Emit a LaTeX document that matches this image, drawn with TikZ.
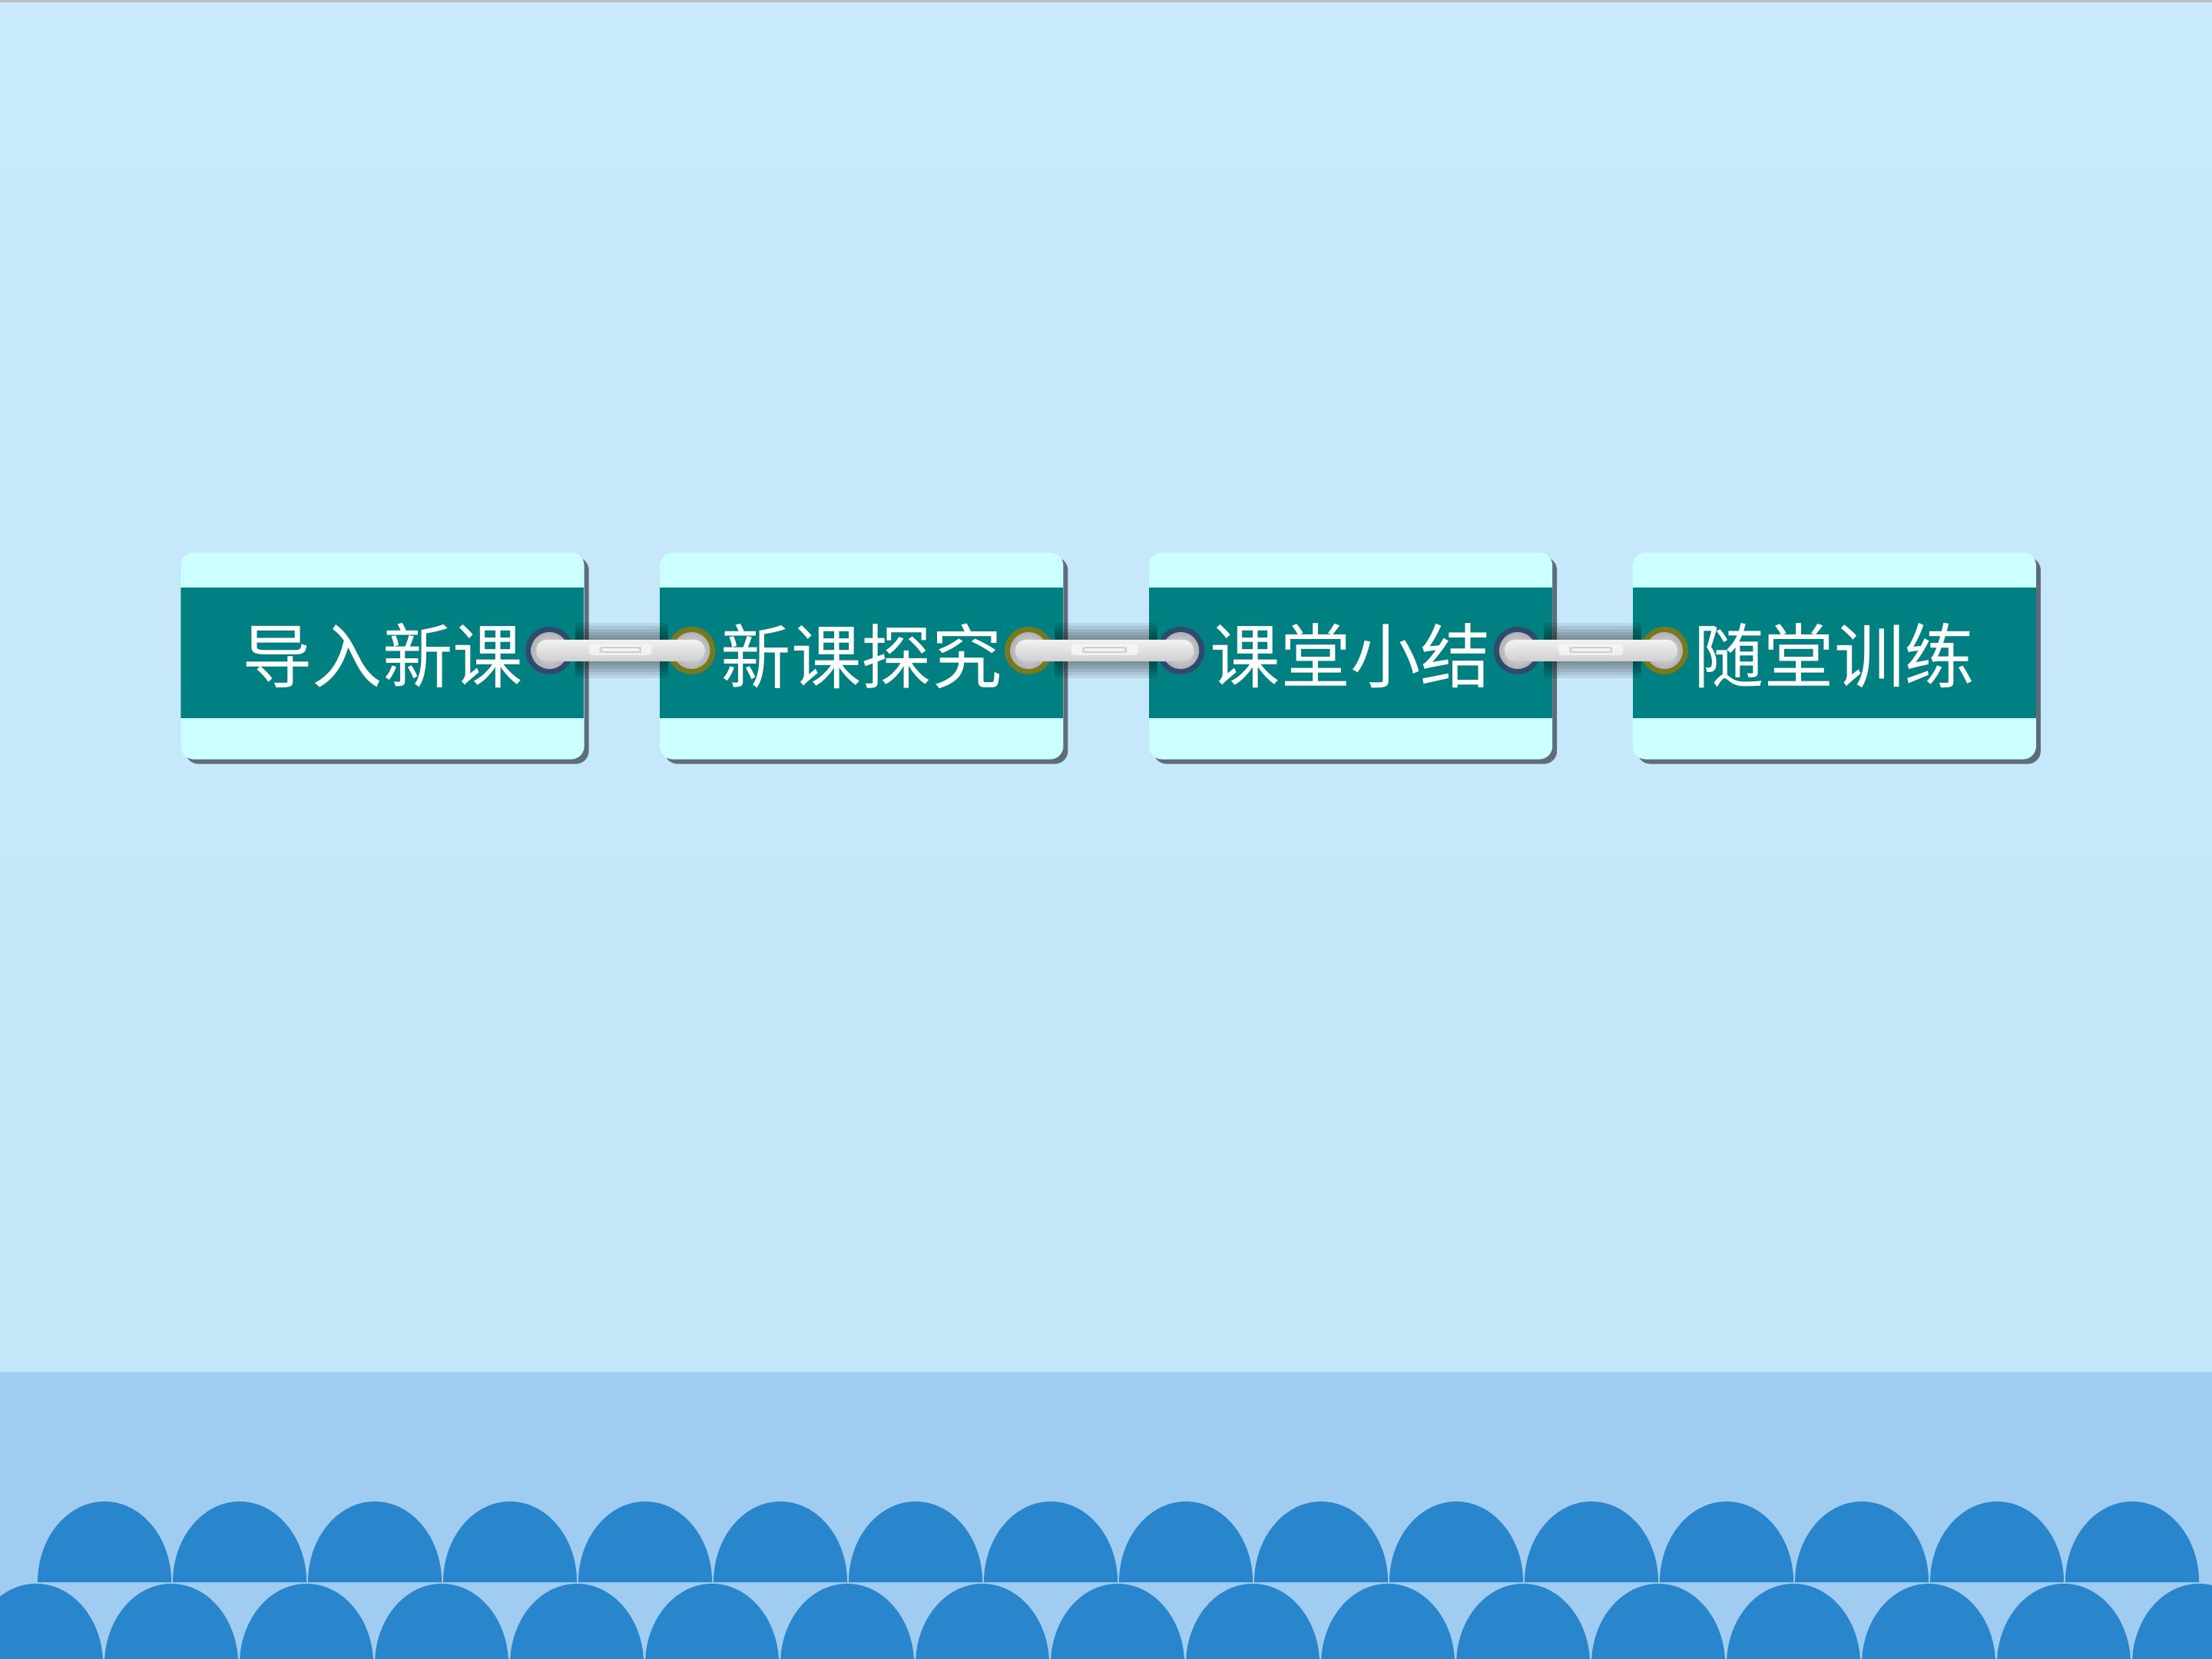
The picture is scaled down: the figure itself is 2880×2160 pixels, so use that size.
\documentclass[tikz,border=0pt]{standalone}
\usepackage{fontspec}
\newfontfamily\cjk{Noto Sans CJK SC}
\usetikzlibrary{positioning,shadows,calc}
\definecolor{skytop}{HTML}{C8EAFC}
\definecolor{skybot}{HTML}{C3E6F8}
\definecolor{seaband}{HTML}{9FCCF0}
\definecolor{wave}{HTML}{2A86CC}
\definecolor{topline}{HTML}{BEBEBE}
\definecolor{cardcyan}{HTML}{CCFFFF}
\definecolor{cardteal}{HTML}{008080}
\definecolor{cardshade}{HTML}{5E6D79}
\definecolor{ringnavy}{HTML}{2E4A6C}
\definecolor{ringolive}{HTML}{78781E}
\definecolor{ringlight}{HTML}{E4E4E4}
\definecolor{ringdark}{HTML}{A4A4A8}
\definecolor{bartop}{HTML}{F2F2F2}
\definecolor{barbot}{HTML}{CFCFD2}

\begin{document}
\begin{tikzpicture}[x=0.01cm,y=-0.01cm,
  card/.style={rectangle,rounded corners=0.17cm,minimum width=5.25cm,
    minimum height=2.69cm,inner sep=0pt,fill=cardcyan,text=white,
    font=\cjk\fontsize{26}{30}\selectfont,
    drop shadow={shadow xshift=0.06cm,shadow yshift=-0.06cm,fill=cardshade,opacity=1},
    path picture={\fill[cardteal,sharp corners] ([yshift=0.885cm]path picture bounding box.west)
      rectangle ([yshift=-0.805cm]path picture bounding box.east);}},
  hole/.style={circle,minimum size=0.62cm,inner sep=0pt,fill=#1,
    path picture={\shade[inner color=ringlight,outer color=ringdark]
      (path picture bounding box.center) circle[radius=0.24cm];}}]
\useasboundingbox (0,0) rectangle (2880,2160);

% sky and sea
\shade[top color=skytop,bottom color=skybot] (0,0) rectangle (2880,1786);
\fill[topline] (0,0) rectangle (2880,3);
\fill[seaband] (0,1786) rectangle (2880,2160);
\foreach \k in {0,...,15}
  \fill[wave] ({136+176*\k-87},2060) arc[start angle=180,end angle=0,x radius=0.87cm,y radius=1.05cm] -- cycle;
\foreach \k in {0,...,16}
  \fill[wave] ({47+176*\k-87},2167) arc[start angle=180,end angle=0,x radius=0.87cm,y radius=1.05cm] -- cycle;

% tags
\node[card] (card1) at (498,854) {导入新课};
\node[card,right=0.97cm of card1] (card2) {新课探究};
\node[card,right=1.1cm of card2] (card3) {课堂小结};
\node[card,right=1.03cm of card3] (card4) {随堂训练};

% shadows of the links
\foreach \a/\b in {card1/card2,card2/card3,card3/card4}
  \foreach \w in {0.72,0.64,...,0.3}
    \draw[black,opacity=0.08,line width=\w cm] ([xshift=-0.12cm,yshift=0.07cm]\a.east) -- ([xshift=0.12cm,yshift=0.07cm]\b.west);

% eyelets
\node[hole=ringnavy] (r1) at ([xshift=-0.46cm,yshift=0.07cm]card1.east) {};
\node[hole=ringolive] (l2) at ([xshift=0.42cm,yshift=0.07cm]card2.west) {};
\node[hole=ringolive] (r2) at ([xshift=-0.46cm,yshift=0.07cm]card2.east) {};
\node[hole=ringnavy] (l3) at ([xshift=0.42cm,yshift=0.07cm]card3.west) {};
\node[hole=ringnavy] (r3) at ([xshift=-0.46cm,yshift=0.07cm]card3.east) {};
\node[hole=ringolive] (l4) at ([xshift=0.42cm,yshift=0.07cm]card4.west) {};

% links
\foreach \a/\b in {r1/l2,r2/l3,r3/l4}{
  \shade[top color=bartop,bottom color=barbot,rounded corners=0.13cm]
    ($(\a)+(-0.17cm,0.14cm)$) rectangle ($(\b)+(0.17cm,-0.14cm)$);
  \fill[white,opacity=0.6,rounded corners=0.04cm]
    ($(\a)!0.28!(\b)+(0,0.08cm)$) rectangle ($(\a)!0.72!(\b)+(0,-0.06cm)$);
  \draw[ringdark,opacity=0.45,line width=0.02cm,rounded corners=0.03cm]
    ($(\a)!0.36!(\b)+(0,0.04cm)$) rectangle ($(\a)!0.64!(\b)+(0,-0.02cm)$);
}
\end{tikzpicture}
\end{document}
